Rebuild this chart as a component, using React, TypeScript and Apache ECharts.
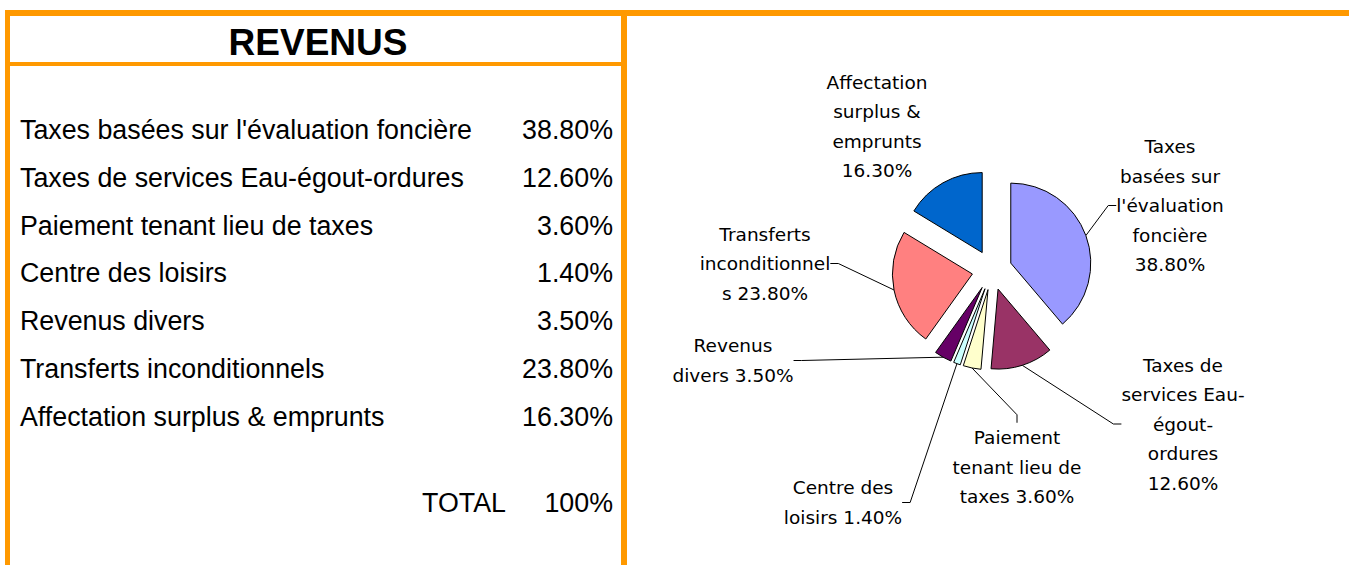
import React, { useEffect, useRef } from "react";
import * as echarts from "echarts";

const categories = [
  "Taxes basées sur l'évaluation foncière",
  "Taxes de services Eau-égout-ordures",
  "Paiement tenant lieu de taxes",
  "Centre des loisirs",
  "Revenus divers",
  "Transferts inconditionnels",
  "Affectation surplus & emprunts",
];
const values = [38.8, 12.6, 3.6, 1.4, 3.5, 23.8, 16.3];
const valueLabels = ["38.80%", "12.60%", "3.60%", "1.40%", "3.50%", "23.80%", "16.30%"];
const pieLabels = [
  "Taxes\nbasées sur\nl'évaluation\nfoncière\n38.80%",
  "Taxes de\nservices Eau-\négout-\nordures\n12.60%",
  "Paiement\ntenant lieu de\ntaxes 3.60%",
  "Centre des\nloisirs 1.40%",
  "Revenus\ndivers 3.50%",
  "Transferts\ninconditionnel\ns 23.80%",
  "Affectation\nsurplus &\nemprunts\n16.30%",
];
const showLabelLine = [true, true, true, true, true, true, false];
const colors = ["#9999FF", "#993366", "#FFFFCC", "#CCFFFF", "#660066", "#FF8080", "#0066CC"];
const titleText = "REVENUS";
const totalLabel = "TOTAL";
const totalValue = "100%";

// label block centres (layout only)
const labelPos: [number, number][] = [
  [1170, 205.5],
  [1183, 424],
  [1017, 467],
  [843, 502.5],
  [733, 360.5],
  [765, 263.5],
  [877, 126.5],
];

const ORANGE = "#FF9900";
const TABLE_FONT = "'Liberation Sans', Arial, sans-serif";
const PIE_CENTER: [number, number] = [992, 270];
const PIE_RADIUS = 80;
const EXPLODE = 20;

export default function App() {
  const ref = useRef<HTMLDivElement>(null);
  useEffect(() => {
    if (!ref.current) return;
    const chart = echarts.init(ref.current, null, { renderer: "svg" });
    const rowY0 = 130;
    const rowStep = 47.8;
    const graphics: any[] = [
      { type: "rect", shape: { x: 5, y: 10, width: 1344, height: 6 }, style: { fill: ORANGE }, silent: true },
      { type: "rect", shape: { x: 5, y: 10, width: 5, height: 555 }, style: { fill: ORANGE }, silent: true },
      { type: "rect", shape: { x: 621, y: 10, width: 6, height: 555 }, style: { fill: ORANGE }, silent: true },
      { type: "rect", shape: { x: 5, y: 62, width: 622, height: 4 }, style: { fill: ORANGE }, silent: true },
      {
        type: "text",
        x: 318,
        y: 42,
        style: {
          text: titleText,
          font: `bold 37px ${TABLE_FONT}`,
          fill: "#000",
          align: "center",
          verticalAlign: "middle",
        },
      },
    ];
    categories.forEach((c, i) => {
      graphics.push({
        type: "text",
        x: 20,
        y: rowY0 + rowStep * i,
        style: { text: c, font: `26.8px ${TABLE_FONT}`, fill: "#000", align: "left", verticalAlign: "middle" },
      });
      graphics.push({
        type: "text",
        x: 613,
        y: rowY0 + rowStep * i,
        style: { text: valueLabels[i], font: `26.8px ${TABLE_FONT}`, fill: "#000", align: "right", verticalAlign: "middle" },
      });
    });
    graphics.push({
      type: "text",
      x: 506,
      y: 503,
      style: { text: totalLabel, font: `26.8px ${TABLE_FONT}`, fill: "#000", align: "right", verticalAlign: "middle" },
    });
    graphics.push({
      type: "text",
      x: 613,
      y: 503,
      style: { text: totalValue, font: `26.8px ${TABLE_FONT}`, fill: "#000", align: "right", verticalAlign: "middle" },
    });

    const total = values.reduce((a, b) => a + b, 0);
    let cum = 0;
    const series: any[] = values.map((v, i) => {
      const startFrac = cum / total;
      const midFrac = (cum + v / 2) / total;
      cum += v;
      const mid = midFrac * Math.PI * 2;
      const center = [PIE_CENTER[0] + EXPLODE * Math.sin(mid), PIE_CENTER[1] - EXPLODE * Math.cos(mid)];
      return {
        type: "pie",
        name: categories[i],
        center,
        radius: PIE_RADIUS,
        startAngle: 90 - startFrac * 360,
        clockwise: true,
        avoidLabelOverlap: false,
        emphasis: { disabled: true },
        silent: true,
        data: [
          {
            value: v,
            name: categories[i],
            itemStyle: { color: colors[i], borderColor: "#000", borderWidth: 1 },
            label: {
              show: true,
              formatter: () => pieLabels[i],
              fontFamily: "'DejaVu Sans', Verdana, sans-serif",
              fontSize: 18.5,
              lineHeight: 29.5,
              color: "#000",
              align: "center",
            },
            labelLine: { show: showLabelLine[i], length: 12, length2: 8, lineStyle: { color: "#000", width: 1 } },
          },
          {
            value: total - v,
            name: "",
            itemStyle: { color: "rgba(0,0,0,0)", borderWidth: 0 },
            label: { show: false },
            labelLine: { show: false },
          },
        ],
        labelLayout: (p: any) =>
          p.dataIndex === 0
            ? { x: labelPos[i][0], y: labelPos[i][1], align: "center", verticalAlign: "middle" }
            : {},
      };
    });

    chart.setOption({
      animation: false,
      backgroundColor: "#fff",
      graphic: graphics,
      series,
    });
    return () => chart.dispose();
  }, []);
  return (
    <div
      ref={ref}
      style={{ position: "fixed", left: 0, top: 0, width: 1349, height: 565, background: "#fff" }}
    />
  );
}
